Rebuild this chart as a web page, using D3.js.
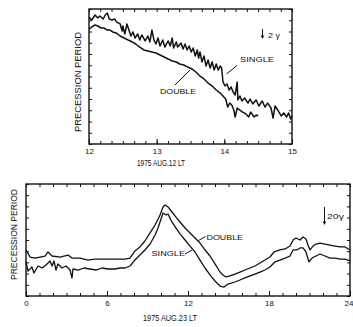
<!DOCTYPE html>
<html><head><meta charset="utf-8">
<script src="https://cdn.jsdelivr.net/npm/d3@7"></script>
<style>
body{margin:0;background:#fff}
svg text{font-family:"Liberation Sans",Arial,sans-serif;fill:#111}
</style></head>
<body><svg id="c" width="353" height="327"></svg>
<script>
// ---- DATA (hours LT, precession period in arbitrary tick units) ----
const topSingle = [[12.00,11.29],[12.04,11.02],[12.09,11.47],[12.13,11.2],[12.16,11.38],[12.21,11.11],[12.24,11.47],[12.27,11.64],[12.30,11.11],[12.34,11.02],[12.38,11.11],[12.41,10.84],[12.46,10.67],[12.49,10.04],[12.50,10.49],[12.53,9.78],[12.56,10.67],[12.59,10.13],[12.62,9.6],[12.65,9.96],[12.68,9.42],[12.72,9.78],[12.75,9.24],[12.78,9.69],[12.83,9.16],[12.87,9.6],[12.90,9.07],[12.93,10.13],[12.96,9.24],[12.99,8.89],[13.02,9.42],[13.05,8.71],[13.09,9.24],[13.12,8.62],[13.17,9.16],[13.20,8.71],[13.23,9.42],[13.25,8.53],[13.29,9.07],[13.31,8.62],[13.36,8.98],[13.39,8.44],[13.42,8.89],[13.45,8.36],[13.48,8.71],[13.51,8.18],[13.54,8.53],[13.57,7.82],[13.60,8.36],[13.62,7.64],[13.64,8.18],[13.67,7.29],[13.70,7.82],[13.73,6.93],[13.76,7.47],[13.79,6.76],[13.82,7.29],[13.85,6.58],[13.88,7.11],[13.91,6.58],[13.94,6.93],[13.96,6.76],[13.98,5.51],[14.01,5.16],[14.04,5.33],[14.07,4.8],[14.10,5.07],[14.13,4.62],[14.16,4.36],[14.19,5.51],[14.20,3.91],[14.23,4.27],[14.26,3.82],[14.30,4.09],[14.35,3.64],[14.38,4.0],[14.42,3.56],[14.47,3.91],[14.51,3.38],[14.56,3.82],[14.60,3.29],[14.64,3.64],[14.69,3.2],[14.72,2.31],[14.75,3.38],[14.79,3.02],[14.84,2.49],[14.88,2.76],[14.92,2.4],[14.95,2.76],[14.98,2.22],[15.00,2.49]];
const topDouble = [[12.00,10.22],[12.04,10.4],[12.09,10.58],[12.13,10.49],[12.18,10.31],[12.22,10.31],[12.27,10.13],[12.31,10.13],[12.35,9.96],[12.40,9.87],[12.46,9.6],[12.52,9.42],[12.58,9.24],[12.64,9.07],[12.69,8.89],[12.75,8.62],[12.81,8.36],[12.87,8.27],[12.93,8.18],[12.99,8.09],[13.05,7.91],[13.11,7.73],[13.17,7.56],[13.23,7.38],[13.29,7.29],[13.34,7.11],[13.40,7.02],[13.46,6.84],[13.52,6.67],[13.58,6.4],[13.64,6.04],[13.70,5.78],[13.76,5.42],[13.82,5.16],[13.88,4.8],[13.94,4.53],[13.98,4.27],[14.02,4.0],[14.05,3.29],[14.08,3.64],[14.11,3.47],[14.14,3.02],[14.16,2.4],[14.19,3.2],[14.23,3.02],[14.27,2.84],[14.32,2.67],[14.36,2.4],[14.39,2.84],[14.44,2.4],[14.47,2.58],[14.50,2.49]];
const bottomDouble = [[0.0,4.11],[0.30,3.48],[0.67,3.39],[1.04,3.48],[1.41,3.57],[1.63,3.93],[1.93,3.57],[2.52,3.48],[3.11,3.66],[3.41,3.39],[4.0,3.39],[4.59,3.21],[5.11,3.30],[5.85,3.30],[6.59,3.30],[7.33,3.30],[7.70,3.39],[8.07,4.02],[8.44,4.38],[8.81,4.91],[9.19,5.63],[9.56,6.34],[9.93,7.23],[10.15,7.95],[10.30,8.13],[10.52,7.95],[10.81,7.5],[11.11,7.05],[11.41,6.61],[11.78,6.07],[12.15,5.63],[12.52,5.18],[12.89,4.73],[13.26,4.11],[13.63,3.57],[14.0,2.86],[14.37,2.14],[14.59,1.88],[14.81,1.70],[15.11,1.79],[15.48,1.96],[15.85,2.14],[16.22,2.32],[16.59,2.5],[16.96,2.68],[17.33,2.95],[17.70,3.21],[18.07,3.48],[18.37,3.93],[18.81,4.11],[19.19,4.2],[19.56,4.46],[19.78,5.0],[20.0,5.18],[20.30,5.0],[20.52,5.27],[20.74,5.09],[20.89,4.55],[21.04,4.11],[21.26,4.46],[21.48,4.64],[21.78,4.73],[22.15,4.64],[22.52,4.55],[22.89,4.46],[23.26,4.38],[23.63,4.38],[24.0,4.11]];
const bottomSingle = [[0.0,3.04],[0.15,2.23],[0.44,2.59],[0.59,2.05],[0.89,2.68],[1.19,2.5],[1.48,2.77],[1.78,3.13],[1.93,2.68],[2.07,3.13],[2.22,2.32],[2.37,2.86],[2.67,2.5],[2.96,2.68],[3.26,2.32],[3.41,1.61],[3.48,2.41],[3.85,2.32],[4.30,2.5],[4.74,2.41],[5.19,2.32],[5.63,2.5],[6.07,2.41],[6.59,2.41],[6.96,2.5],[7.33,2.5],[7.70,2.68],[8.07,3.21],[8.44,3.66],[8.81,4.11],[9.19,4.64],[9.56,5.45],[9.78,6.07],[10.0,6.88],[10.15,7.41],[10.37,7.23],[10.52,7.32],[10.81,6.61],[11.11,6.07],[11.41,5.54],[11.78,5.0],[12.15,4.46],[12.52,3.93],[12.89,3.21],[13.26,2.5],[13.63,1.88],[14.0,1.34],[14.37,0.89],[14.67,0.80],[14.96,1.07],[15.48,1.25],[15.85,1.43],[16.22,1.61],[16.59,1.79],[16.96,1.96],[17.33,2.14],[17.70,2.32],[18.07,2.59],[18.44,3.04],[18.81,3.21],[19.19,3.39],[19.56,3.57],[19.78,4.11],[20.07,4.11],[20.30,4.29],[20.52,4.29],[20.74,3.93],[20.96,3.04],[21.19,3.39],[21.48,3.57],[21.78,3.75],[22.15,3.57],[22.52,3.39],[22.89,3.39],[23.26,3.30],[23.63,3.30],[24.0,3.13]];
const topXLabels = [12,13,14,15];
const bottomXLabels = [0,6,12,18,24];
const topTitle = "1975 AUG.12 LT";
const bottomTitle = "1975 AUG.23 LT";
const yTitle = "PRECESSION PERIOD";

const svg = d3.select("#c");
const ink = "#111";

function panel(o){
  const g = svg.append("g");
  const x = d3.scaleLinear().domain(o.xd).range([o.l,o.r]);
  const y = d3.scaleLinear().domain(o.yd).range([o.b,o.t]);
  const minor = d3.range(o.xd[0], o.xd[1]+1e-9, o.xminor);
  const yt = d3.range(o.yd[0], o.yd[1]+1e-9, 1);
  const axB = d3.axisBottom(x).tickValues(minor).tickSize(-3).tickFormat("");
  const axT = d3.axisTop(x).tickValues(minor).tickSize(-3).tickFormat("");
  const axL = d3.axisLeft(y).tickValues(yt).tickSize(-3).tickFormat("");
  const axR = d3.axisRight(y).tickValues(yt).tickSize(-3).tickFormat("");
  [[axB,`translate(0,${o.b})`],[axT,`translate(0,${o.t})`],[axL,`translate(${o.l},0)`],[axR,`translate(${o.r},0)`]].forEach(([a,tr])=>{
    const s = g.append("g").attr("transform",tr).call(a);
    s.select(".domain").remove();
    s.selectAll("line").attr("stroke",ink).attr("stroke-width",1);
  });
  const lab = g.append("g").attr("transform",`translate(0,${o.b})`)
    .call(d3.axisBottom(x).tickValues(o.labels).tickSize(-5).tickPadding(o.lpad).tickFormat(d3.format("d")));
  lab.select(".domain").remove();
  lab.selectAll("line").attr("stroke",ink).attr("stroke-width",1);
  lab.selectAll("text").attr("font-size",8).attr("fill",ink).style("font-family","Liberation Sans, Arial, sans-serif")
    .attr("text-anchor",d=>d===o.xd[1]&&o.lastEnd?"end":"middle")
    .attr("dx",d=>d===o.xd[1]&&o.lastEnd?o.lastEnd:0);
  g.append("rect").attr("x",o.l).attr("y",o.t).attr("width",o.r-o.l).attr("height",o.b-o.t)
    .attr("fill","none").attr("stroke",ink).attr("stroke-width",1.4);
  const line = d3.line().x(d=>x(d[0])).y(d=>y(d[1]));
  o.series.forEach(s=>{
    g.append("path").datum(s).attr("d",line).attr("fill","none").attr("stroke",ink)
      .attr("stroke-width",o.sw).attr("stroke-linejoin","round");
  });
  g.append("text").attr("x",o.tx).attr("y",o.ty).attr("text-anchor","middle").attr("font-size",8.5)
    .attr("textLength",o.tlen).attr("lengthAdjust","spacingAndGlyphs").text(o.title);
  g.append("text").attr("transform",`translate(${o.yx},${o.yy}) rotate(-90)`).attr("text-anchor","middle")
    .attr("font-size",8.5).attr("textLength",o.ylen).attr("lengthAdjust","spacingAndGlyphs").text(yTitle);
  return {g,x,y};
}

panel({xd:[12,15],yd:[0,12],l:89,r:292,t:9,b:144,xminor:1/6,labels:topXLabels,lpad:4,
  series:[topSingle,topDouble],sw:1.5,title:topTitle,tx:161,ty:166,tlen:48,yx:80.5,yy:82,ylen:100});
panel({xd:[0,24],yd:[0,10],l:26,r:350,t:184,b:296,xminor:1,labels:bottomXLabels,lpad:4,lastEnd:3,
  series:[bottomSingle,bottomDouble],sw:1.3,title:bottomTitle,tx:170,ty:321,tlen:54,yx:16.5,yy:234.5,ylen:91});

function label(txt,x,y,len){
  svg.append("text").attr("x",x).attr("y",y).attr("font-size",8).attr("textLength",len)
    .attr("lengthAdjust","spacingAndGlyphs").text(txt);
}
function seg(x1,y1,x2,y2){
  svg.append("line").attr("x1",x1).attr("y1",y1).attr("x2",x2).attr("y2",y2).attr("stroke",ink).attr("stroke-width",1);
}
function arrow(x,y1,y2){
  seg(x,y1,x,y2-2);
  svg.append("path").attr("d",`M${x-1.8},${y2-3.5}L${x+1.8},${y2-3.5}L${x},${y2}Z`).attr("fill",ink);
}
label("SINGLE",240,62,34); seg(226.5,74,237,65.5);
label("DOUBLE",160,94,36); seg(175,85,190,70);
arrow(262.5,29,39); label("2 γ",268,38,12);
label("DOUBLE",206.5,240,36.5); seg(198.5,240.5,205.5,236.5);
label("SINGLE",151.5,256,33.5); seg(185,254,192,250);
arrow(324.5,207,225); label("20γ",327,219,17);
</script></body></html>
